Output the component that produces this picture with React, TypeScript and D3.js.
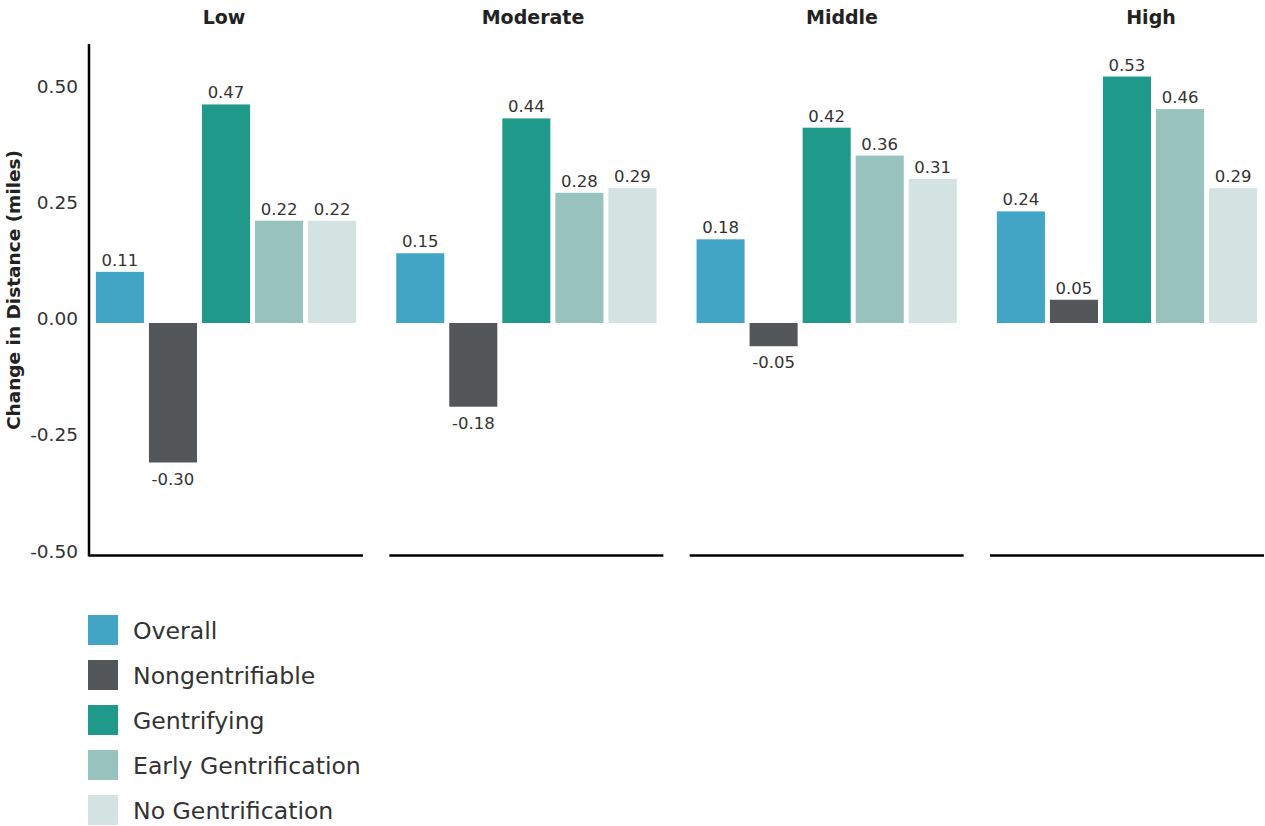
import React from "react";
import * as d3 from "d3";

const groups = ["Low", "Moderate", "Middle", "High"];
const seriesNames = ["Overall", "Nongentrifiable", "Gentrifying", "Early Gentrification", "No Gentrification"];
const seriesColors = ["#43a5c6", "#53575a", "#1f9a8a", "#98c2bd", "#d3e3e2"];
const overall = [0.11, 0.15, 0.18, 0.24];
const nongentrifiable = [-0.3, -0.18, -0.05, 0.05];
const gentrifying = [0.47, 0.44, 0.42, 0.53];
const earlyGent = [0.22, 0.28, 0.36, 0.46];
const noGent = [0.22, 0.29, 0.31, 0.29];
const yTicks = [-0.5, -0.25, 0, 0.25, 0.5];

const values = [overall, nongentrifiable, gentrifying, earlyGent, noGent];
const FONT = "'DejaVu Sans', sans-serif";

export default function App() {
  const W = 1265, H = 826;
  const y = d3.scaleLinear().domain([-0.5, 0.6]).range([555.5, 44]);
  const panel = d3.scaleBand<string>().domain(groups).range([89, 1264]).paddingInner(0.0876).paddingOuter(0);
  const titleX = d3.scaleLinear().domain([0, 3]).range([224, 1151]);
  const pw = panel.bandwidth();
  const inner = d3.scaleBand<string>().domain(seriesNames).range([0, pw]).paddingInner(0.094).paddingOuter(0.13);
  const f2 = d3.format(".2f");
  const fmt = (v: number) => f2(v).replace("\u2212", "-");

  return (
    <svg width={W} height={H} style={{ position: "absolute", left: 0, top: 0 }} fontFamily={FONT}>
      <line x1={89} x2={89} y1={y(0.6)} y2={y(-0.5) + 1} stroke="#000" strokeWidth={2.5} />
      {yTicks.map((t) => (
        <text key={t} x={78} y={y(t) - 3} textAnchor="end" dominantBaseline="middle" fontSize={18.5} fill="#333">
          {fmt(t)}
        </text>
      ))}
      <text
        transform={`translate(20,${290}) rotate(-90)`}
        textAnchor="middle"
        fontSize={18.5}
        fontWeight="bold"
        fill="#222"
      >
        Change in Distance (miles)
      </text>
      {groups.map((g, gi) => {
        const x0 = panel(g)!;
        return (
          <g key={g}>
            <text x={titleX(gi)} y={24} textAnchor="middle" fontSize={19} fontWeight="bold" fill="#222">
              {g}
            </text>
            <line x1={x0} x2={x0 + pw} y1={y(-0.5)} y2={y(-0.5)} stroke="#000" strokeWidth={2.5} />
            {seriesNames.map((s, si) => {
              const v = values[si][gi];
              const bx = x0 + inner(s)!;
              const top = y(Math.max(0, v));
              const bot = y(Math.min(0, v));
              return (
                <g key={s}>
                  <rect x={bx} y={top} width={inner.bandwidth()} height={bot - top} fill={seriesColors[si]} />
                  <text
                    x={bx + inner.bandwidth() / 2}
                    y={v >= 0 ? top - 6 : bot + 22}
                    textAnchor="middle"
                    fontSize={16.5}
                    fill="#333"
                  >
                    {fmt(v)}
                  </text>
                </g>
              );
            })}
          </g>
        );
      })}
      {seriesNames.map((s, i) => (
        <g key={s} transform={`translate(88,${615 + i * 45})`}>
          <rect width={30} height={30} fill={seriesColors[i]} />
          <text x={45} y={16} dominantBaseline="central" fontSize={23.6} fill="#333">
            {s}
          </text>
        </g>
      ))}
    </svg>
  );
}
